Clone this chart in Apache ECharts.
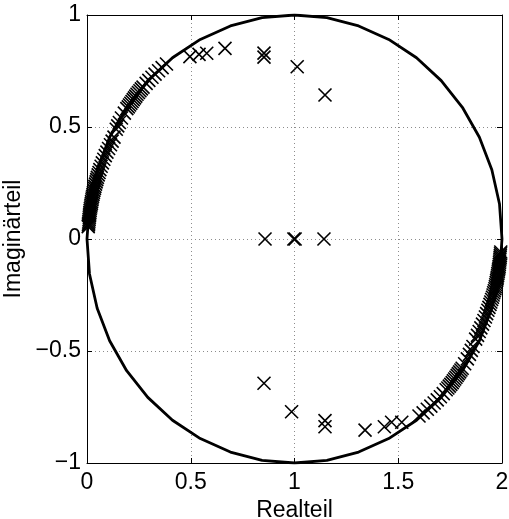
<!DOCTYPE html>
<html>
<head>
<meta charset="utf-8">
<script src="https://cdn.jsdelivr.net/npm/echarts@6/dist/echarts.min.js"></script>
<style>html,body{margin:0;padding:0;background:#fff}#c{width:509px;height:519px}</style>
</head>
<body>
<div id="c"></div>
<script>
// Tick values
var xTicks = [0, 0.5, 1, 1.5, 2];
var yTicks = [-1, -0.5, 0, 0.5, 1];
var xName = 'Realteil';
var yName = 'Imaginärteil';

// Unit circle around (1,0), polygon vertices as drawn in the reference
var circleVerts = [
  [2,0],[1.988,0.156],[1.951,0.309],[1.891,0.454],[1.809,0.588],[1.707,0.707],[1.588,0.809],[1.454,0.891],[1.309,0.951],[1.156,0.988],[1,1],
  [0.844,0.988],[0.691,0.951],[0.546,0.891],[0.412,0.809],[0.293,0.707],[0.191,0.588],[0.109,0.454],[0.049,0.309],[0.012,0.156],[0,0],
  [0.012,-0.156],[0.049,-0.309],[0.109,-0.454],[0.191,-0.588],[0.293,-0.707],[0.412,-0.809],[0.546,-0.891],[0.691,-0.951],[0.844,-0.988],[1,-1],
  [1.156,-0.988],[1.309,-0.951],[1.454,-0.891],[1.588,-0.809],[1.707,-0.707],[1.809,-0.588],[1.891,-0.454],[1.951,-0.309],[1.988,-0.156],[2,0]
];

// Zeros along the upper-left arc
var upperArc = [
  [0.006,0.055],[0.007,0.063],[0.008,0.071],[0.009,0.079],[0.010,0.087],[0.011,0.095],[0.012,0.103],[0.013,0.111],[0.014,0.119],[0.015,0.127],
  [0.016,0.135],[0.018,0.143],[0.019,0.151],[0.021,0.159],[0.022,0.167],[0.024,0.175],[0.025,0.183],[0.027,0.191],[0.029,0.199],[0.031,0.208],
  [0.033,0.217],[0.036,0.226],[0.038,0.235],[0.041,0.245],[0.044,0.255],[0.047,0.265],[0.050,0.275],[0.054,0.286],[0.058,0.297],
  [0.062,0.310],[0.068,0.325],[0.074,0.340],[0.081,0.356],[0.088,0.372],[0.096,0.388],[0.104,0.404],[0.113,0.421],[0.121,0.437],[0.130,0.455],
  [0.141,0.490],[0.148,0.505],[0.156,0.520],[0.166,0.540],[0.180,0.562],
  [0.192,0.582],[0.199,0.590],[0.205,0.598],[0.211,0.606],[0.217,0.614],[0.223,0.622],[0.229,0.630],[0.235,0.638],[0.241,0.646],[0.248,0.654],
  [0.255,0.662],[0.262,0.670],[0.270,0.678],
  [0.285,0.695],[0.298,0.708],[0.313,0.722],[0.328,0.736],[0.345,0.751],[0.362,0.765],[0.383,0.781]
];

// Zeros along the lower-right arc
var lowerArc = [
  [1.994,-0.058],[1.993,-0.066],[1.992,-0.074],[1.991,-0.082],[1.990,-0.090],[1.989,-0.098],[1.988,-0.106],[1.987,-0.114],[1.986,-0.122],[1.985,-0.130],
  [1.983,-0.138],[1.982,-0.146],[1.980,-0.154],[1.979,-0.162],[1.977,-0.170],[1.976,-0.178],[1.974,-0.186],[1.972,-0.195],[1.970,-0.204],[1.968,-0.213],
  [1.966,-0.222],[1.963,-0.231],[1.960,-0.240],[1.957,-0.250],[1.954,-0.260],[1.950,-0.270],[1.946,-0.281],[1.942,-0.292],
  [1.937,-0.305],[1.932,-0.318],[1.926,-0.333],[1.920,-0.348],[1.913,-0.364],[1.906,-0.380],[1.898,-0.397],[1.890,-0.413],[1.882,-0.430],[1.873,-0.447],
  [1.860,-0.480],[1.852,-0.497],[1.843,-0.515],[1.833,-0.535],[1.820,-0.557],
  [1.808,-0.577],[1.802,-0.585],[1.796,-0.593],[1.790,-0.601],[1.784,-0.609],[1.778,-0.617],[1.772,-0.625],[1.766,-0.633],[1.760,-0.641],[1.753,-0.649],
  [1.746,-0.657],[1.739,-0.665],[1.731,-0.673],
  [1.717,-0.690],[1.703,-0.704],[1.688,-0.718],[1.673,-0.732],[1.657,-0.746],[1.640,-0.760],[1.620,-0.776],[1.600,-0.790]
];

// Isolated zeros inside the circle
var innerPoints = [
  [0.496,0.814],[0.540,0.824],[0.577,0.829],[0.665,0.851],
  [0.853,0.830],[0.853,0.812],[1.013,0.769],[1.147,0.643],
  [0.858,0],[0.997,0],[1.003,0],[1.142,0],
  [0.853,-0.644],[0.986,-0.771],[1.147,-0.811],[1.147,-0.838],
  [1.340,-0.853],[1.433,-0.838],[1.468,-0.818],[1.517,-0.818]
];

var allPoints = upperArc.concat(lowerArc).concat(innerPoints);

var FONT = 'Liberation Sans';
function fmt(v){ return String(v).replace('-', '\u2212'); }

var chart = echarts.init(document.getElementById('c'), null, {renderer:'canvas'});
var tickStyle = {show:true, inside:true, length:5, lineStyle:{color:'#000', width:1}};
var splitStyle = {show:true, lineStyle:{color:'#8c8c8c', type:[1,3], width:1}};
chart.setOption({
  animation:false,
  backgroundColor:'#fff',
  grid:{left:87, right:7, top:15, bottom:56, containLabel:false, outerBoundsMode:'none'},
  xAxis:[{
    type:'value', min:xTicks[0], max:xTicks[xTicks.length-1], interval:0.5, position:'bottom',
    axisLine:{show:true, onZero:false, lineStyle:{color:'#000', width:1}},
    axisTick:tickStyle,
    axisLabel:{color:'#000', fontSize:23, fontFamily:FONT, margin:8, formatter:fmt},
    splitLine:splitStyle,
    name:xName, nameLocation:'middle', nameGap:30,
    nameTextStyle:{color:'#000', fontSize:23, fontFamily:FONT}
  },{
    type:'value', min:xTicks[0], max:xTicks[xTicks.length-1], interval:0.5, position:'top',
    axisLine:{show:true, onZero:false, lineStyle:{color:'#000', width:1}},
    axisTick:tickStyle, axisLabel:{show:false}, splitLine:{show:false}
  }],
  yAxis:[{
    type:'value', min:yTicks[0], max:yTicks[yTicks.length-1], interval:0.5, position:'left',
    axisLine:{show:true, onZero:false, lineStyle:{color:'#000', width:1}},
    axisTick:tickStyle,
    axisLabel:{color:'#000', fontSize:23, fontFamily:FONT, margin:6, formatter:fmt},
    splitLine:splitStyle,
    name:yName, nameLocation:'middle', nameGap:53,
    nameTextStyle:{color:'#000', fontSize:23, fontFamily:FONT}
  },{
    type:'value', min:yTicks[0], max:yTicks[yTicks.length-1], interval:0.5, position:'right',
    axisLine:{show:true, onZero:false, lineStyle:{color:'#000', width:1}},
    axisTick:tickStyle, axisLabel:{show:false}, splitLine:{show:false}
  }],
  series:[{
    type:'line', data:circleVerts, xAxisIndex:0, yAxisIndex:0,
    showSymbol:false, symbol:'none', smooth:false,
    lineStyle:{color:'#000', width:2.8}, z:2
  },{
    type:'scatter', data:allPoints, xAxisIndex:0, yAxisIndex:0,
    symbol:'path://M0,0L10,10M10,0L0,10', symbolSize:13,
    itemStyle:{color:'rgba(0,0,0,0)', borderColor:'#000', borderWidth:1.6, opacity:1},
    z:3
  }]
});
</script>
</body>
</html>
